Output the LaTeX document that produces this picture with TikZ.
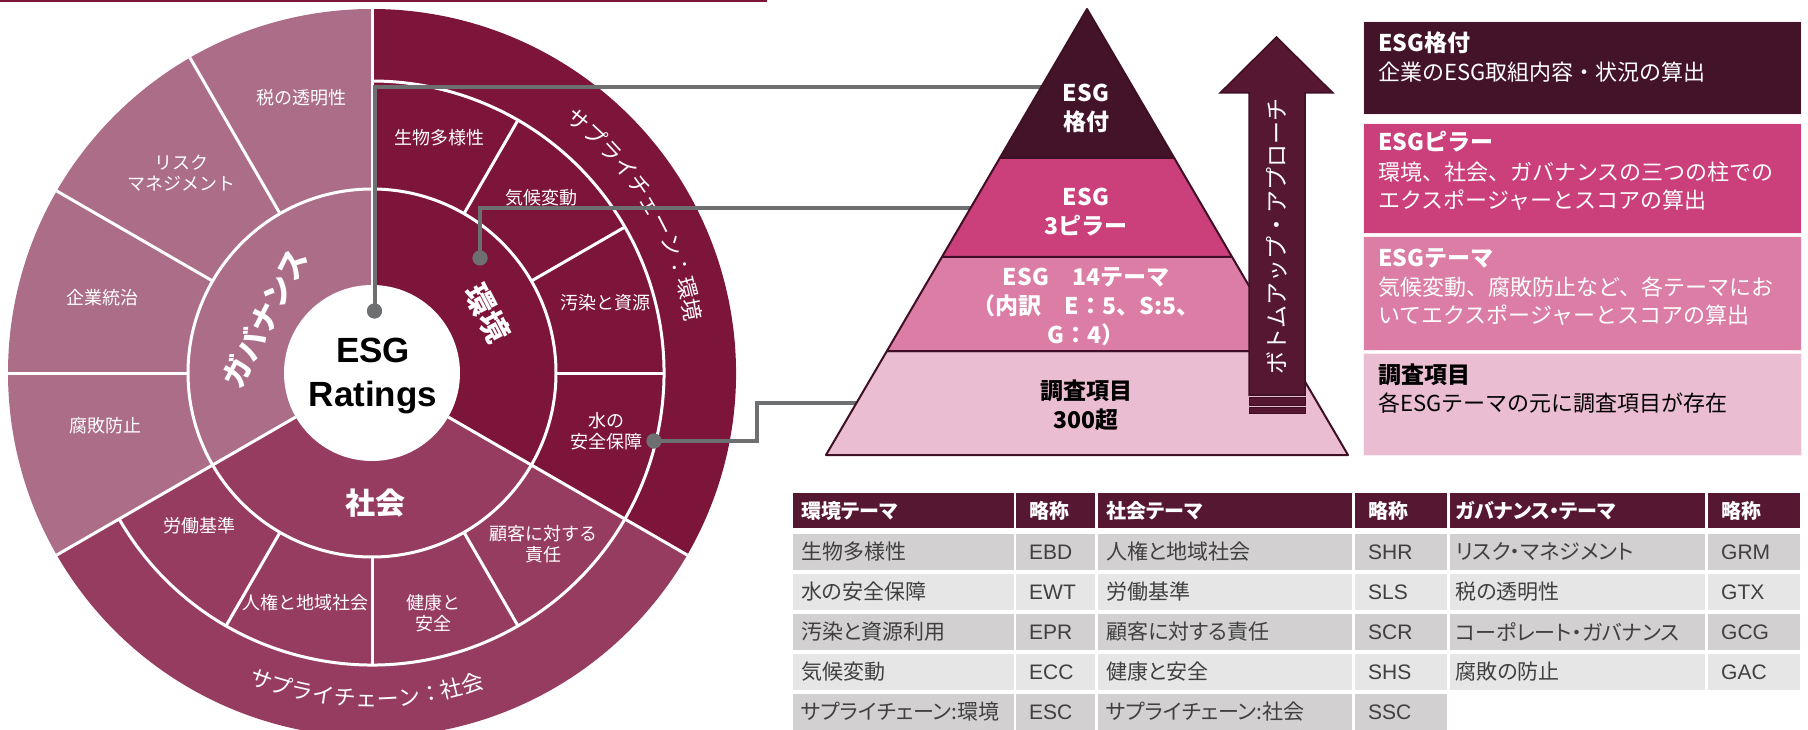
\documentclass[tikz,border=0pt]{standalone}
\usepackage{fontspec}
\setmainfont{Noto Sans CJK JP}
\newfontfamily\arial{Liberation Sans}
\newfontfamily\tfont{Noto Sans CJK JP}[RawFeature=+palt]
\usetikzlibrary{decorations.text}
\definecolor{gov}{HTML}{AB6D88}
\definecolor{env}{HTML}{7D143A}
\definecolor{soc}{HTML}{973C61}
\definecolor{conn}{HTML}{6D6F71}
\definecolor{pyA}{HTML}{43132A}
\definecolor{pyB}{HTML}{CB3F7A}
\definecolor{pyC}{HTML}{DB7DA5}
\definecolor{pyD}{HTML}{EBBDD2}
\definecolor{pyline}{HTML}{3E0F25}
\definecolor{arrowc}{HTML}{561733}
\definecolor{thead}{HTML}{561733}
\definecolor{rowA}{HTML}{D2D0D1}
\definecolor{rowB}{HTML}{E7E6E7}
\definecolor{ttext}{HTML}{404040}
\begin{document}
\begin{tikzpicture}[x=1pt,y=1pt,
  wl/.style={white, line width=3pt},
  wlab/.style={text=white, font=\fontsize{18}{21}\selectfont, align=center, inner sep=0pt},
  plab/.style={text=white, font=\bfseries\fontsize{30}{30}\selectfont, inner sep=0pt},
  dot/.style={circle, fill=conn, inner sep=0pt, minimum size=15pt},
  connl/.style={draw=conn, line width=4pt},
  pyr/.style={draw=pyline, line width=2pt, line join=round},
  pytxt/.style={text=white, font=\bfseries\fontsize{23}{29}\selectfont, align=center, inner sep=0pt},
  boxs/.style={draw=white!75!pyD, line width=1pt},
  btitle/.style={anchor=west, inner sep=0pt, text=white, font=\bfseries\fontsize{23}{23}\selectfont},
  btext/.style={anchor=west, inner sep=0pt, text=white, font=\fontsize{22}{22}\selectfont},
  tcell/.style={anchor=north west, inner ysep=0pt, align=left, minimum height=36.5pt, text=ttext, font=\tfont\fontsize{21}{21}\selectfont},
  hd/.style={tcell, fill=thead, minimum height=35pt, text=white, font=\tfont\bfseries\fontsize{20}{20}\selectfont},
  ra/.style={tcell, fill=rowA},
  rb/.style={tcell, fill=rowB},
  ab/.style={font=\arial\fontsize{21}{21}\selectfont},
  c1/.style={text width=204.5pt, inner xsep=8pt},
  c2/.style={text width=53pt, inner xsep=13pt},
  c3/.style={text width=238pt, inner xsep=8pt},
  c4/.style={text width=66pt, inner xsep=13pt},
  c5/.style={text width=243.5pt, inner xsep=6pt},
  c6/.style={text width=66pt, inner xsep=13pt}
]
\useasboundingbox (0,0) rectangle (1808,-730);
\clip (0,0) rectangle (1808,-730);

% top rule
\draw[env, line width=2pt] (0,-1.5) -- (767,-1.5);

% ===== wheel =====
\coordinate (C) at (372,-373);
\begin{scope}[shift={(372,-373)}]
  \fill[gov] (0,0) -- (90:364) arc[start angle=90, end angle=210, radius=364] -- cycle;
  \fill[env] (0,0) -- (-30:364) arc[start angle=-30, end angle=90, radius=364] -- cycle;
  \fill[soc] (0,0) -- (210:364) arc[start angle=210, end angle=330, radius=364] -- cycle;
  \draw[wl] (0,0) circle[radius=184];
  \draw[wl] (210:292) arc[start angle=210, end angle=450, radius=292];
  \foreach \a in {90,210,330} \draw[wl] (\a:88) -- (\a:364);
  \foreach \a in {120,150,180} \draw[wl] (\a:184) -- (\a:364);
  \foreach \a in {60,30,0,240,270,300} \draw[wl] (\a:184) -- (\a:292);
  \fill[white] (0,0) circle[radius=88];
  \node[plab, rotate=63] (lgov) at (153:121) {ガバナンス};
  \node[plab, rotate=-62.5] (lenv) at (27.5:130) {環境};
  \path[decorate, decoration={text along path, text align=center,
     text={|\fontsize{22}{22}\selectfont\color{white}|サプライチェーン：環境}}]
     (61:318) arc[start angle=61, end angle=1, radius=318];
  \path[decorate, decoration={text along path, text align=center,
     text={|\fontsize{22}{22}\selectfont\color{white}|サプライチェーン：社会}}]
     (239:334) arc[start angle=239, end angle=299, radius=334];
\end{scope}
\node[plab] (lsoc) at (375,-503) {社会};
\node[anchor=base, inner sep=0pt, font=\arial\bfseries\fontsize{35}{35}\selectfont] (esg) at (373,-362.7) {ESG};
\node[anchor=base, inner sep=0pt, font=\arial\bfseries\fontsize{35}{35}\selectfont] (ratings) at (373,-406.7) {Ratings};

\node[wlab] (tax) at (301,-98) {税の透明性};
\node[wlab] (risk) at (181,-173) {リスク\\マネジメント};
\node[wlab] (corp) at (102,-298) {企業統治};
\node[wlab] (anti) at (105,-426) {腐敗防止};
\node[wlab] (bio) at (439,-138) {生物多様性};
\node[wlab] (clim) at (541,-198) {気候変動};
\node[wlab] (poll) at (605,-303) {汚染と資源};
\node[wlab] (water) at (606,-431) {水の\\安全保障};
\node[wlab] (labor) at (199,-526) {労働基準};
\node[wlab] (human) at (305,-603) {人権と地域社会};
\node[wlab] (health) at (433,-613) {健康と\\安全};
\node[wlab] (cust) at (543,-544) {顧客に対する\\責任};

% ===== connectors =====
\coordinate (e1) at (1041,-87.5);
\coordinate (e2) at (971,-208);
\coordinate (k3) at (757,-422);
\coordinate (e3) at (857,-403);
\node[dot] (d1) at (374.5,-311) {};
\node[dot] (d2) at (480,-258) {};
\node[dot] (d3) at (654,-441) {};
\draw[connl] (d1.center) |- (e1);
\draw[connl] (d2.center) |- (e2);
\draw[connl] (d3.center) -| (k3) |- (e3);
\node[dot] at (d1) {};
\node[dot] at (d2) {};
\node[dot] at (d3) {};

% ===== pyramid =====
\filldraw[pyr, fill=pyD] (886.9,-351) -- (1287.1,-351) -- (1348,-455) -- (826,-455) -- cycle;
\filldraw[pyr, fill=pyC] (941.9,-257) -- (1232.1,-257) -- (1287.1,-351) -- (886.9,-351) -- cycle;
\filldraw[pyr, fill=pyB] (999.8,-158) -- (1174.2,-158) -- (1232.1,-257) -- (941.9,-257) -- cycle;
\filldraw[pyr, fill=pyA] (1087,-9) -- (1174.2,-158) -- (999.8,-158) -- cycle;
\node[pytxt] (p1) at (1086,-108) {ESG\\格付};
\node[pytxt] (p2) at (1086,-212.5) {ESG\\3ピラー};
\node[pytxt] (p3) at (1086,-307) {ESG　14テーマ\\（内訳　E：5、S:5、\\G：4）};
\node[pytxt, text=black] (p4) at (1086,-405.5) {調査項目\\300超};

% ===== arrow =====
\filldraw[fill=arrowc, draw=pyline, line width=1.5pt, line join=miter]
  (1249,-395) -- (1249,-93) -- (1220,-93) -- (1276.5,-37) -- (1333,-93) -- (1305,-93) -- (1305,-395) -- cycle;
\filldraw[fill=arrowc, draw=pyline, line width=1pt] (1249,-397.5) rectangle (1305,-405);
\filldraw[fill=arrowc, draw=pyline, line width=1pt] (1249,-407.5) rectangle (1305,-413.5);
\node[rotate=90, text=white, inner sep=0pt, font=\fontsize{23}{23}\selectfont] (arr) at (1277,-236) {ボトムアップ・アプローチ};

% ===== right boxes =====
\filldraw[boxs, fill=pyA] (1363,-21.7) rectangle (1801,-115);
\filldraw[boxs, fill=pyB] (1363,-123.3) rectangle (1801,-234);
\filldraw[boxs, fill=pyC] (1363,-236.7) rectangle (1801,-350);
\filldraw[boxs, fill=pyD] (1363,-353) rectangle (1801,-455);
\node[btitle] (b1t) at (1378,-43) {ESG格付};
\node[btext] (b1a) at (1378,-72) {企業のESG取組内容・状況の算出};
\node[btitle] (b2t) at (1378,-141.7) {ESGピラー};
\node[btext] (b2a) at (1378,-171.7) {環境、社会、ガバナンスの三つの柱での};
\node[btext] (b2b) at (1378,-200) {エクスポージャーとスコアの算出};
\node[btitle] (b3t) at (1378,-258) {ESGテーマ};
\node[btext] (b3a) at (1378,-287) {気候変動、腐敗防止など、各テーマにお};
\node[btext] (b3b) at (1378,-315) {いてエクスポージャーとスコアの算出};
\node[btitle, text=black] (b4t) at (1378,-375) {調査項目};
\node[btext, text=black] (b4a) at (1378,-403) {各ESGテーマの元に調査項目が存在};

% ===== table =====
\node[hd,c1] (h1) at (793,-493) {環境テーマ};
\node[hd,c2] (h2) at (1016,-493) {略称};
\node[hd,c3] (h3) at (1098,-493) {社会テーマ};
\node[hd,c4] (h4) at (1355,-493) {略称};
\node[hd,c5] (h5) at (1449.5,-493) {ガバナンス・テーマ};
\node[hd,c6] (h6) at (1708,-493) {略称};

\node[ra,c1] (r1a) at (793,-533.5) {生物多様性};
\node[ra,c2,ab] (r1b) at (1016,-533.5) {EBD};
\node[ra,c3] (r1c) at (1098,-533.5) {人権と地域社会};
\node[ra,c4,ab] (r1d) at (1355,-533.5) {SHR};
\node[ra,c5] (r1e) at (1449.5,-533.5) {リスク・マネジメント};
\node[ra,c6,ab] (r1f) at (1708,-533.5) {GRM};

\node[rb,c1] (r2a) at (793,-573.5) {水の安全保障};
\node[rb,c2,ab] (r2b) at (1016,-573.5) {EWT};
\node[rb,c3] (r2c) at (1098,-573.5) {労働基準};
\node[rb,c4,ab] (r2d) at (1355,-573.5) {SLS};
\node[rb,c5] (r2e) at (1449.5,-573.5) {税の透明性};
\node[rb,c6,ab] (r2f) at (1708,-573.5) {GTX};

\node[ra,c1] (r3a) at (793,-613.5) {汚染と資源利用};
\node[ra,c2,ab] (r3b) at (1016,-613.5) {EPR};
\node[ra,c3] (r3c) at (1098,-613.5) {顧客に対する責任};
\node[ra,c4,ab] (r3d) at (1355,-613.5) {SCR};
\node[ra,c5] (r3e) at (1449.5,-613.5) {コーポレート・ガバナンス};
\node[ra,c6,ab] (r3f) at (1708,-613.5) {GCG};

\node[rb,c1] (r4a) at (793,-653.5) {気候変動};
\node[rb,c2,ab] (r4b) at (1016,-653.5) {ECC};
\node[rb,c3] (r4c) at (1098,-653.5) {健康と安全};
\node[rb,c4,ab] (r4d) at (1355,-653.5) {SHS};
\node[rb,c5] (r4e) at (1449.5,-653.5) {腐敗の防止};
\node[rb,c6,ab] (r4f) at (1708,-653.5) {GAC};

\node[ra,c1] (r5a) at (793,-693.5) {サプライチェーン:環境};
\node[ra,c2,ab] (r5b) at (1016,-693.5) {ESC};
\node[ra,c3] (r5c) at (1098,-693.5) {サプライチェーン:社会};
\node[ra,c4,ab] (r5d) at (1355,-693.5) {SSC};
\end{tikzpicture}
\end{document}
